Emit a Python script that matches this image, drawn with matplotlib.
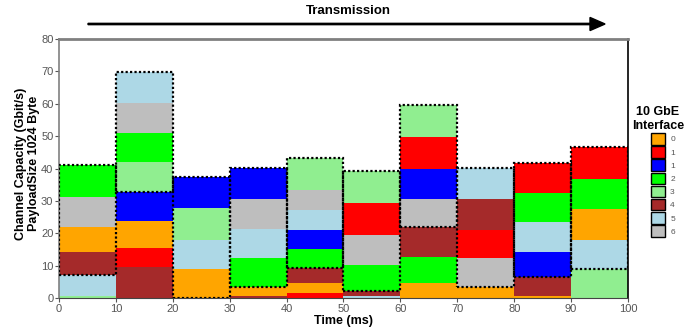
import matplotlib.pyplot as plt
from matplotlib.patches import Rectangle, Patch, FancyArrow

plt.rcParams['font.family'] = ['Liberation Sans', 'DejaVu Sans']

# legend entries (interface label, colour)
iface_labels = ['0', '1', '1', '2', '3', '4', '5', '6']
iface_colors = ['#FFA500', '#FF0000', '#0000FF', '#00FF00', '#90EE90', '#A52A2A', '#ADD8E6', '#BEBEBE']

# time bins (ms)
bin_starts = [0, 10, 20, 30, 40, 50, 60, 70, 80, 90]
bin_width = 10

# stacked segments per bin: legend index and top of each segment (Gbit/s), bottom to top
seg_idx = [
    [4, 6, 5, 0, 7, 3],
    [5, 1, 0, 2, 4, 3, 7, 6],
    [0, 6, 4, 2],
    [5, 0, 3, 6, 7, 2],
    [1, 0, 5, 3, 2, 6, 7, 4],
    [6, 5, 3, 7, 1, 4],
    [0, 3, 5, 7, 2, 1, 4],
    [0, 7, 1, 5, 6],
    [0, 5, 2, 6, 3, 1],
    [4, 6, 0, 3, 1],
]
seg_top = [
    [0.6, 7.0, 14.2, 22.0, 31.2, 41.0],
    [9.6, 15.5, 23.7, 32.8, 42.0, 51.0, 60.1, 69.9],
    [8.9, 17.9, 27.7, 37.4],
    [0.6, 3.4, 12.3, 21.2, 30.5, 40.2],
    [1.5, 4.7, 9.3, 15.1, 20.9, 27.1, 33.3, 43.1],
    [0.6, 2.3, 10.1, 19.4, 29.3, 39.3],
    [4.6, 12.6, 21.8, 30.5, 39.8, 49.7, 59.6],
    [3.3, 12.3, 21.1, 30.5, 40.1],
    [0.6, 6.5, 14.2, 23.4, 32.4, 41.6],
    [8.9, 17.8, 27.4, 36.7, 46.6],
]

# dotted frames per bin (low, high)
frame_low = [7.0, 32.8, 0.0, 3.4, 9.3, 2.3, 21.8, 3.3, 6.5, 8.9]
frame_high = [41.0, 69.9, 37.4, 40.2, 43.1, 39.3, 59.6, 40.1, 41.6, 46.6]

fig = plt.figure(figsize=(6.85, 3.28), dpi=100)
ax = fig.add_axes([0.0861, 0.0915, 0.8307, 0.7895])

for b, x0 in enumerate(bin_starts):
    bottom = 0.0
    for k, top in zip(seg_idx[b], seg_top[b]):
        ax.bar(x0, top - bottom, width=bin_width, bottom=bottom, align='edge',
               color=iface_colors[k], linewidth=0)
        bottom = top

for b, x0 in enumerate(bin_starts):
    ax.add_patch(Rectangle((x0, frame_low[b]), bin_width, frame_high[b] - frame_low[b],
                           fill=False, edgecolor='black', linestyle=(0, (1, 1)),
                           linewidth=1.6, zorder=5))

ax.set_xlim(0, 100)
ax.set_ylim(0, 80)
ax.set_xticks(range(0, 101, 10))
ax.set_yticks(range(0, 81, 10))
ax.tick_params(colors='#555555', labelsize=8, length=3, width=0.8, pad=1)
ax.spines['top'].set_color('#808080')
ax.spines['top'].set_linewidth(2)
ax.spines['left'].set_color('#808080')
ax.spines['left'].set_linewidth(1.2)
ax.spines['right'].set_color('black')
ax.spines['right'].set_linewidth(1.2)
ax.spines['bottom'].set_color('#444444')

ax.set_xlabel('Time (ms)', fontsize=9, fontweight='bold', labelpad=1)
ax.set_ylabel('Channel Capacity (Gbit/s)\nPayloadSize 1024 Byte', fontsize=9,
              fontweight='bold', linespacing=1.15)
ax.yaxis.set_label_coords(-0.033, 0.52)

# transmission arrow above the plot
fig.patches.append(FancyArrow(
    88 / 685, 1 - 24 / 328, (590 - 88) / 685, 0, width=0.004, head_width=0.04,
    head_length=0.022, length_includes_head=False, color='black',
    transform=fig.transFigure, figure=fig))
fig.text(348 / 685, 1 - 11 / 328, 'Transmission', ha='center', va='center',
         fontsize=9.5, fontweight='bold')

fig.text(658 / 685, 1 - 119 / 328, '10 GbE\nInterface', ha='center', va='center',
         fontsize=9, fontweight='bold', linespacing=1.25)
handles = [Patch(facecolor=c, edgecolor='black', linewidth=1) for c in iface_colors]
leg = fig.legend(handles, iface_labels, loc='upper left', bbox_to_anchor=(651 / 685, 1 - 133 / 328),
                 frameon=False, fontsize=6, borderpad=0,
                 handlelength=1.7, handleheight=1.75, handletextpad=0.6,
                 labelspacing=0.2, borderaxespad=0)
for t in leg.get_texts():
    t.set_color('#555555')

fig.savefig('out.png', dpi=100)
